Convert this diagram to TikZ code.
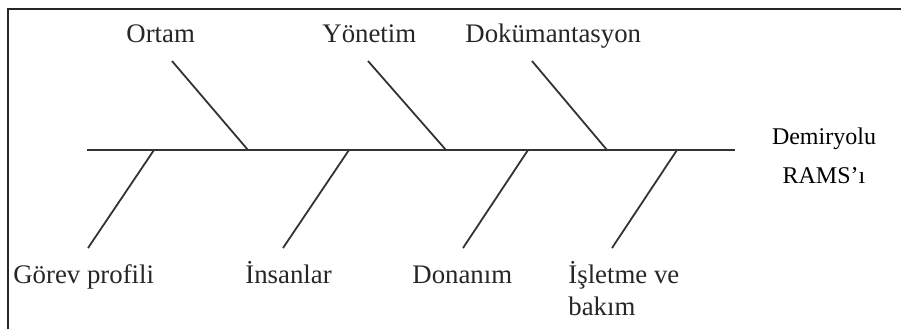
\documentclass[tikz,border=0pt]{standalone}
\usepackage{fontspec}
\setmainfont{Liberation Serif}
\begin{document}
\begin{tikzpicture}[x=0.5pt, y=-0.5pt,
  bone/.style={line width=0.9pt, black!80},
  cause/.style={inner sep=0pt, anchor=base west, font=\fontsize{13.4}{16.2}\selectfont, text=black!85},
  effect/.style={inner sep=0pt, align=center, font=\fontsize{12}{19.5}\selectfont}]
\useasboundingbox (0,0) rectangle (901,329);
% Frame
\draw[line width=1pt, black!85] (8,329) -- (8,9) -- (901,9);
% Spine
\coordinate (tail) at (87,150);
\coordinate (head) at (735,150);
\draw[bone] (tail) -- (head);
% Upper bones
\coordinate (ortamT) at (172,61);  \coordinate (ortamB) at (248,150);
\coordinate (yonT) at (368,61);    \coordinate (yonB) at (446,150);
\coordinate (dokT) at (532,61);    \coordinate (dokB) at (607,150);
\draw[bone] (ortamT) -- (ortamB);
\draw[bone] (yonT) -- (yonB);
\draw[bone] (dokT) -- (dokB);
% Lower bones
\coordinate (gorevT) at (154,150); \coordinate (gorevB) at (88,248);
\coordinate (insT) at (349,150);   \coordinate (insB) at (283,248);
\coordinate (donT) at (528,150);   \coordinate (donB) at (463,248);
\coordinate (islT) at (677,150);   \coordinate (islB) at (612,248);
\draw[bone] (gorevT) -- (gorevB);
\draw[bone] (insT) -- (insB);
\draw[bone] (donT) -- (donB);
\draw[bone] (islT) -- (islB);
% Labels
\node[cause] (ortam) at (126,42) {Ortam};
\node[cause] (yonetim) at (322,42) {Yönetim};
\node[cause] (dokuman) at (465,42) {Dokümantasyon};
\node[cause] (gorev) at (13,283) {Görev profili};
\node[cause] (insan) at (245,283) {İnsanlar};
\node[cause] (donanim) at (412,283) {Donanım};
\node[cause, align=left, anchor=north west] (isletme) at (568,261) {İşletme ve\\bakım};
\node[effect, anchor=north] (rams) at (824,127) {Demiryolu\\RAMS’ı};
\end{tikzpicture}
\end{document}
